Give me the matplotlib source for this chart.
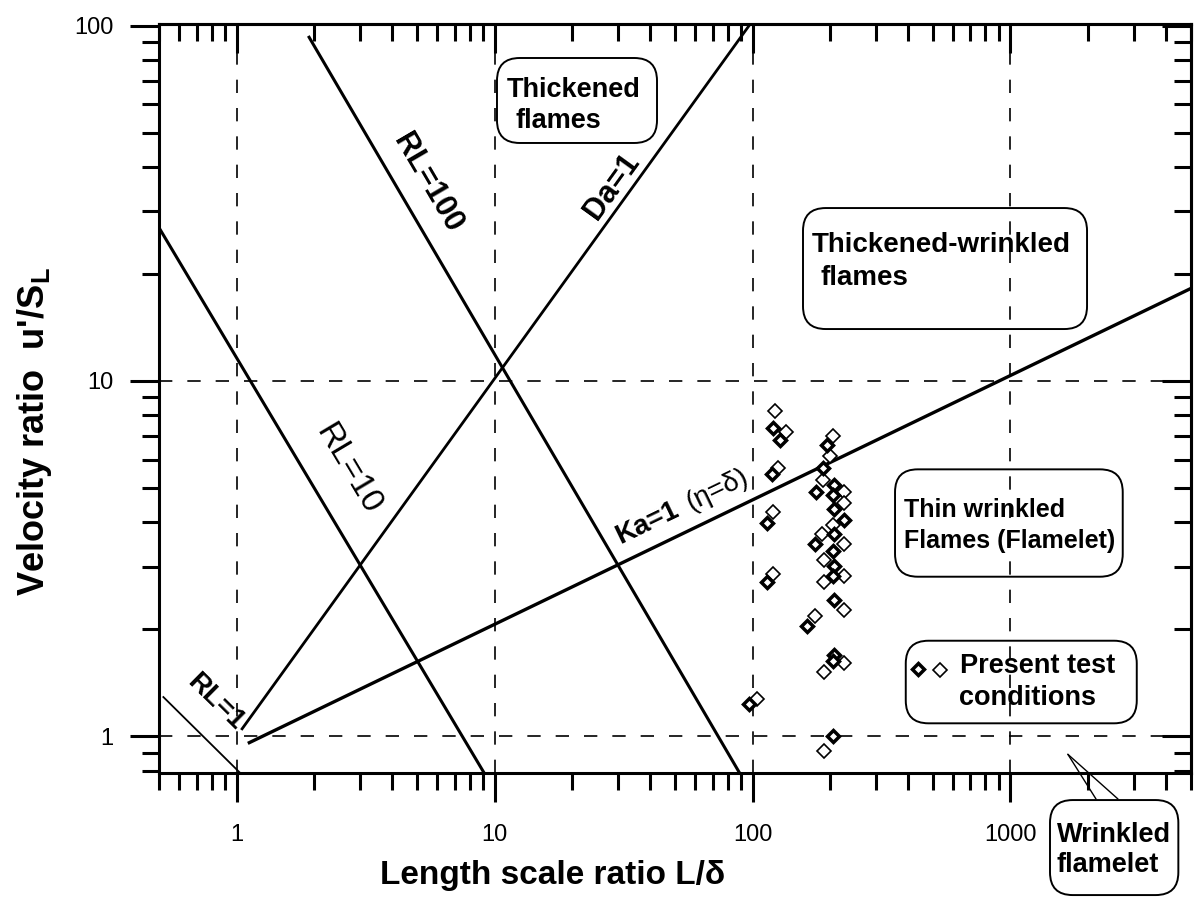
import numpy as np
import matplotlib
matplotlib.use('Agg')
import matplotlib.pyplot as plt
from matplotlib.patches import FancyBboxPatch
from matplotlib.ticker import NullFormatter

plt.rcParams['font.family'] = 'Liberation Sans'
plt.rcParams['mathtext.fontset'] = 'custom'
plt.rcParams['mathtext.rm'] = 'Liberation Sans'
plt.rcParams['mathtext.bf'] = 'Liberation Sans:bold'
plt.rcParams['mathtext.it'] = 'Liberation Sans:italic'

# Regime boundaries (end points)
rl1_x = [0.52, 1.03]
rl1_y = [1.29, 0.79]
rl10_x = [0.5, 9.1]
rl10_y = [27.0, 0.79]
rl100_x = [1.91, 89.0]
rl100_y = [92.7, 0.79]
da1_x = [1.05, 98.0]
da1_y = [1.05, 101.0]
ka1_x = [1.12, 5000.0]
ka1_y = [0.96, 18.2]

# Present test conditions (two marker styles)
bold_x = [120, 128, 194, 188, 119, 176, 207, 205, 207, 114, 227, 207,
          174, 205, 207, 205, 114, 207, 162, 207, 205, 97, 205]
bold_y = [7.37, 6.83, 6.61, 5.68, 5.48, 4.86, 5.10, 4.78, 4.35, 3.99, 4.05, 3.71,
          3.48, 3.33, 3.02, 2.83, 2.71, 2.42, 2.05, 1.69, 1.63, 1.23, 1.0]
open_x = [122, 135, 205, 200, 126, 188, 227, 227, 120, 205, 186,
          227, 190, 227, 190, 120, 227, 174, 227, 190, 104, 190]
open_y = [8.21, 7.18, 7.0, 6.15, 5.68, 5.28, 4.86, 4.54, 4.29, 3.94, 3.71,
          3.48, 3.14, 2.83, 2.71, 2.86, 2.26, 2.18, 1.61, 1.52, 1.27, 0.91]

# Axes
x_ticks = [1, 10, 100, 1000]
x_labels = ['1', '10', '100', '1000']
y_ticks = [1, 10, 100]
y_labels = ['1', '10', '100']
x_grid = [1, 10, 100, 1000]
y_grid = [1, 10]

fig = plt.figure(figsize=(11.99, 9.06), dpi=100)
ax = fig.add_axes([0.1326, 0.1471, 0.8605, 0.8264])
ax.set_xscale('log')
ax.set_yscale('log')
ax.set_xlim(0.5, 5000)
ax.set_ylim(0.79, 101)

for v in x_grid:
    ax.axvline(v, color='black', lw=1.2, linestyle=(0, (8, 9)), zorder=1)
for v in y_grid:
    ax.axhline(v, color='black', lw=1.2, linestyle=(0, (8, 9)), zorder=1)

ax.plot(rl1_x, rl1_y, color='black', lw=1.3)
ax.plot(rl10_x, rl10_y, color='black', lw=2.2)
ax.plot(rl100_x, rl100_y, color='black', lw=2.2)
ax.plot(da1_x, da1_y, color='black', lw=2.0)
ax.plot(ka1_x, ka1_y, color='black', lw=2.4)

ax.plot(open_x, open_y, 'D', ms=7.4, mfc='white', mec='black', mew=1.2, zorder=4)
ax.plot(bold_x, bold_y, 'D', ms=5.8, mfc='white', mec='black', mew=2.5, zorder=5)


def line_angle(xs, ys):
    p = ax.transData.transform(np.column_stack([xs, ys]))
    return np.degrees(np.arctan2(p[1, 1] - p[0, 1], p[1, 0] - p[0, 0]))


def line_label(x, y, s, xs, ys, size, weight):
    ax.text(x, y, s, rotation=line_angle(xs, ys), rotation_mode='anchor',
            ha='center', va='center', fontsize=size, fontweight=weight)


line_label(5.5, 36.0, 'RL=100', rl100_x, rl100_y, 22, 'bold')
line_label(28.5, 35.3, 'Da=1', da1_x, da1_y, 22, 'bold')
line_label(2.71, 5.66, 'RL=10', rl10_x, rl10_y, 24, 'normal')
line_label(0.827, 1.247, 'RL=1', rl1_x, rl1_y, 20, 'bold')
line_label(39.1, 3.99, 'Ka=1', ka1_x, ka1_y, 20, 'bold')
line_label(73.0, 4.94, '(\u03b7=\u03b4)', ka1_x, ka1_y, 20, 'normal')


def rbox(x0, y0, w, h):
    p = FancyBboxPatch((x0, y0), w, h, boxstyle='round,pad=0,rounding_size=0.022',
                       mutation_aspect=1.378, transform=ax.transAxes,
                       fc='none', ec='black', lw=1.4, clip_on=False, zorder=6)
    ax.add_patch(p)


def btext(x, y, s, size=19.5):
    ax.text(x, y, s, transform=ax.transAxes, ha='left', va='baseline',
            fontsize=size, fontweight='bold', zorder=7, clip_on=False)


# Thickened flames
rbox(0.3276, 0.8411, 0.1551, 0.1135)
btext(0.3373, 0.9025, 'Thickened')
btext(0.3451, 0.8611, 'flames')

# Thickened-wrinkled flames
rbox(0.6242, 0.5926, 0.2753, 0.1616)
btext(0.6329, 0.6955, 'Thickened-wrinkled', 20)
btext(0.6407, 0.6514, 'flames', 20)

# Thin wrinkled flames
rbox(0.7134, 0.2618, 0.2207, 0.1434)
btext(0.7221, 0.3419, 'Thin wrinkled', 18)
btext(0.7221, 0.3001, 'Flames (Flamelet)', 18)

# Present test conditions
rbox(0.7238, 0.0660, 0.2239, 0.1103)
ax.plot([0.736], [0.139], 'D', ms=5.8, mfc='white', mec='black', mew=2.5,
        transform=ax.transAxes, clip_on=False, zorder=7)
ax.plot([0.757], [0.137], 'D', ms=7.4, mfc='white', mec='black', mew=1.2,
        transform=ax.transAxes, clip_on=False, zorder=7)
btext(0.7764, 0.1332, 'Present test')
btext(0.7754, 0.0904, 'conditions')

# Wrinkled flamelet (outside the frame)
rbox(0.8636, -0.1634, 0.1244, 0.1269)
btext(0.8701, -0.0922, 'Wrinkled')
btext(0.8701, -0.1322, 'flamelet')
for tx in [0.9082, 0.9295]:
    ax.annotate('', xy=(1670, 0.89), xycoords='data', xytext=(tx, -0.0351),
                textcoords='axes fraction', annotation_clip=False,
                arrowprops=dict(arrowstyle='-', lw=1.0, color='black',
                                shrinkA=0, shrinkB=0))

# Ticks: all x ticks point down, all y ticks point left
ax.set_xticks(x_ticks, labels=x_labels)
ax.set_yticks(y_ticks, labels=y_labels)
ax.xaxis.set_minor_formatter(NullFormatter())
ax.yaxis.set_minor_formatter(NullFormatter())
ax.tick_params(which='both', direction='out', width=2.2, labelsize=17,
               top=False, right=False)
ax.tick_params(which='major', length=21)
ax.tick_params(which='minor', length=12)
ax.tick_params(axis='x', pad=16)
ax.tick_params(axis='y', pad=12)

secx = ax.secondary_xaxis('top')
secx.set_xticks(x_ticks)
secx.xaxis.set_major_formatter(NullFormatter())
secx.xaxis.set_minor_formatter(NullFormatter())
secx.tick_params(which='both', direction='in', width=2.2)
secx.tick_params(which='major', length=21)
secx.tick_params(which='minor', length=12)

secy = ax.secondary_yaxis('right')
secy.set_yticks(y_ticks)
secy.yaxis.set_major_formatter(NullFormatter())
secy.yaxis.set_minor_formatter(NullFormatter())
secy.tick_params(which='both', direction='in', width=2.2)
secy.tick_params(which='major', length=21)
secy.tick_params(which='minor', length=12)

for sp in ax.spines.values():
    sp.set_linewidth(2.2)
secx.spines['top'].set_linewidth(2.2)
secy.spines['right'].set_linewidth(2.2)

ax.set_xlabel('Length scale ratio L/\u03b4', fontsize=24, fontweight='bold')
ax.xaxis.set_label_coords(0.3819, -0.1166)
ax.set_ylabel("Velocity ratio  u'/S$_\\mathbf{L}$", fontsize=26, fontweight='bold')
ax.yaxis.set_label_coords(-0.1018, 0.455)

fig.savefig('out.png', dpi=100)
